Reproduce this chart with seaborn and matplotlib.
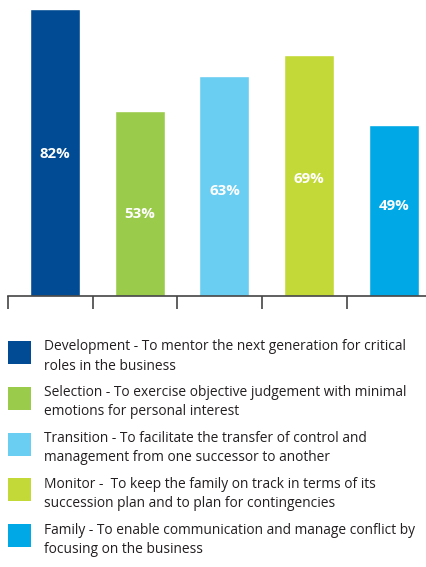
import matplotlib
matplotlib.use("Agg")
import matplotlib.pyplot as plt
import seaborn as sns
import pandas as pd
from matplotlib.patches import Rectangle

categories = ["Development", "Selection", "Transition", "Monitor", "Family"]
values = [82, 53, 63, 69, 49]
label_heights = [40.6, 23.4, 30, 33.4, 25.7]  # where the % labels sit on each bar
colors = ["#004B93", "#9BCB4B", "#6ACEF2", "#C3D938", "#00A9E6"]
descriptions = [
    "Development - To mentor the next generation for critical\nroles in the business",
    "Selection - To exercise objective judgement with minimal\nemotions for personal interest",
    "Transition - To facilitate the transfer of control and\nmanagement from one successor to another",
    "Monitor -  To keep the family on track in terms of its\nsuccession plan and to plan for contingencies",
    "Family - To enable communication and manage conflict by\nfocusing on the business",
]

sns.set_style("white")
plt.rcParams["font.family"] = ["Open Sans", "DejaVu Sans"]

W, H = 427, 567
fig = plt.figure(figsize=(W / 100, H / 100), dpi=100)

# axes: baseline at y=296px, 3.5 px per percent, left edge at x=8px
ax = fig.add_axes([8 / W, (H - 296) / H, (W - 8) / W, 294 / H])
df = pd.DataFrame({"cat": categories, "val": values})
sns.barplot(data=df, x="cat", y="val", hue="cat", palette=colors,
            width=0.59, dodge=False, legend=False, ax=ax, saturation=1)

ax.set_ylim(0, 84)
ax.set_xlim(-0.555, 4.39)
ax.set_xlabel("")
ax.set_ylabel("")
ax.set_yticks([])
ax.set_xticks([i - 0.555 for i in range(len(categories))])
ax.set_xticklabels([])
ax.tick_params(axis="x", direction="out", length=9.5, width=1.2, color="#444444", bottom=True)
for side in ["top", "right", "left"]:
    ax.spines[side].set_visible(False)
ax.spines["bottom"].set_color("#444444")
ax.spines["bottom"].set_linewidth(1.2)

for i, (v, h) in enumerate(zip(values, label_heights)):
    ax.text(i, h, f"{v}%", ha="center", va="center", color="white",
            fontsize=10.8, fontweight="bold")

# legend drawn in figure pixels
for i, (c, d) in enumerate(zip(colors, descriptions)):
    top = 341 + i * 45.8
    fig.add_artist(Rectangle((8 / W, (H - top - 23) / H), 23 / W, 23 / H,
                             transform=fig.transFigure, facecolor=c, edgecolor="none"))
    fig.text(44 / W, (H - top - 15.5) / H, d, ha="left", va="center",
             fontsize=9.9, color="#231F20", linespacing=1.38)

fig.savefig("out.png", dpi=100)
